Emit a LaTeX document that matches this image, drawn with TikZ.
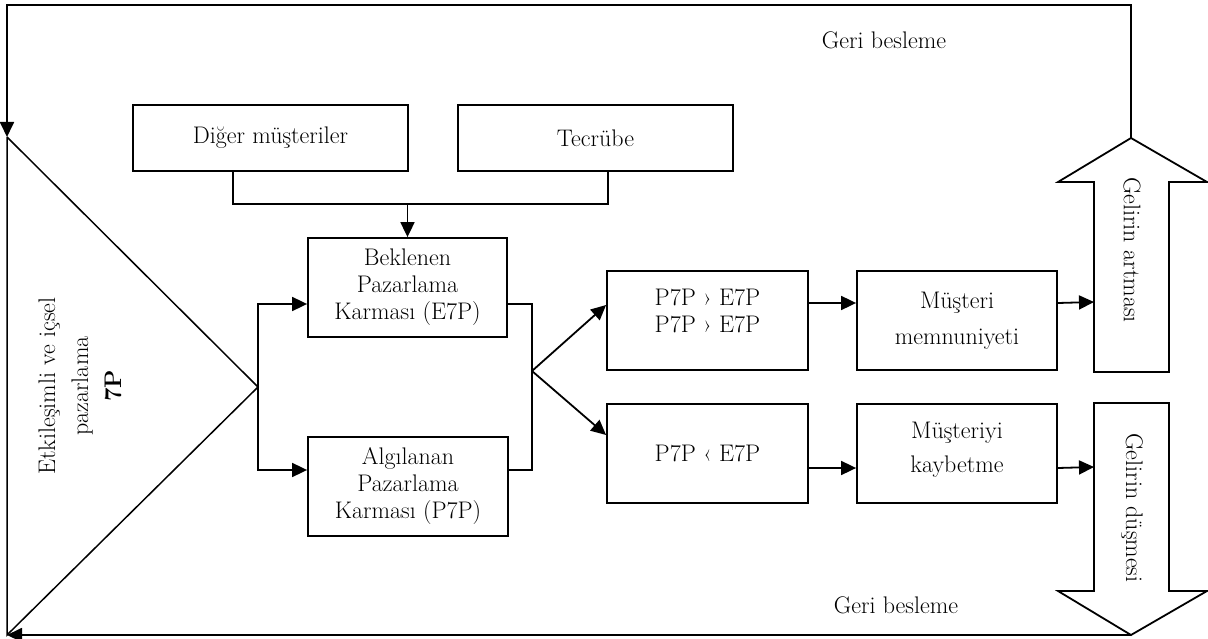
\documentclass[tikz,border=0pt]{standalone}
\usetikzlibrary{arrows.meta}
\begin{document}
\begin{tikzpicture}[x=1pt,y=-1pt, line width=1.8pt,
  >={Triangle[length=15pt,width=14pt]},
  txt/.style={font=\fontsize{24}{27}\selectfont},
  box/.style={draw, line width=1.8pt, inner sep=0pt, align=center, txt},
  bigarrow/.style={draw, line width=1.8pt, fill=white}]
\useasboundingbox (0,0) rectangle (1208,639);

% boxes
\node[box, minimum width=275pt, minimum height=66pt] (dig) at (270.5,138) {Diğer müşteriler};
\node[box, minimum width=275pt, minimum height=66pt] (tec) at (595.5,138) {Tecrübe};
\node[box, minimum width=199pt, minimum height=99pt] (bek) at (407.5,287.5) {Beklenen\\Pazarlama\\Karması (E7P)};
\node[box, minimum width=200pt, minimum height=99pt] (alg) at (408,486.5) {Algılanan\\Pazarlama\\Karması (P7P)};
\node[box, minimum width=201pt, minimum height=99pt] (gt) at (707.5,320.5) {P7P › E7P\\P7P › E7P\\[-8pt]\mbox{}};
\node[box, minimum width=201pt, minimum height=99pt] (lt) at (707.5,453.5) {P7P ‹ E7P};
\node[box, minimum width=200pt, minimum height=99pt] (mem) at (957,320.5) {Müşteri\\[9pt]memnuniyeti};
\node[box, minimum width=200pt, minimum height=99pt] (kay) at (957,453.5) {Müşteriyi\\[7pt]kaybetme\\[-14pt]\mbox{}};

% big arrows
\coordinate (uptip) at (1131,138);
\coordinate (dntip) at (1131,635);
\draw[bigarrow] (uptip) -- (1207,182) -- (1169,182) -- (1169,372) -- (1094,372) -- (1094,182) -- (1058,182) -- cycle;
\draw[bigarrow] (dntip) -- (1207,591) -- (1169,591) -- (1169,403) -- (1094,403) -- (1094,591) -- (1058,591) -- cycle;
\node[txt, rotate=-90] (up) at (1132,250) {Gelirin artması};
\node[txt, rotate=-90] (dn) at (1132,508) {Gelirin düşmesi};

% triangle
\coordinate (ttop) at (7,137);
\coordinate (tbot) at (7,635);
\coordinate (apex) at (258,387);
\draw[line width=1.5pt] (ttop) -- (apex) -- (tbot) -- (ttop);
\node[txt, rotate=90, align=center, font=\fontsize{24}{33}\selectfont] (seven) at (80,386) {Etkileşimli ve içsel\\pazarlama\\\textbf{7P}};

% feedback
\draw[->] (uptip) -- (1131,5) -- (7,5) -- (ttop);
\draw[->] (dntip) -- (tbot);
\node[txt] (gb1) at (884,40) {Geri besleme};
\node[txt] (gb2) at (896,605) {Geri besleme};

% connectors
\coordinate (j) at (407.5,204);
\draw (dig.south -| 233,0) -- (233,204) -- (608,204) -- (tec.south -| 608,0);
\draw[->] (j) -- (bek.north);
\draw[->] (apex) -- (258,304) -- (bek.west |- 0,304);
\draw[->] (apex) -- (258,470) -- (alg.west |- 0,470);
\coordinate (rj) at (532,371);
\draw (bek.east |- 0,304) -- (532,304) -- (532,470) -- (alg.east |- 0,470);
\draw[->] (rj) -- (gt.west |- 0,305);
\draw[->] (rj) -- (lt.west |- 0,435);
\draw[->] (gt.east |- 0,303) -- (mem.west |- 0,303);
\draw[->] (lt.east |- 0,468) -- (kay.west |- 0,468);
\draw[->] (mem.east |- 0,303) -- (1094,302);
\draw[->] (kay.east |- 0,468) -- (1094,467);
\end{tikzpicture}
\end{document}
